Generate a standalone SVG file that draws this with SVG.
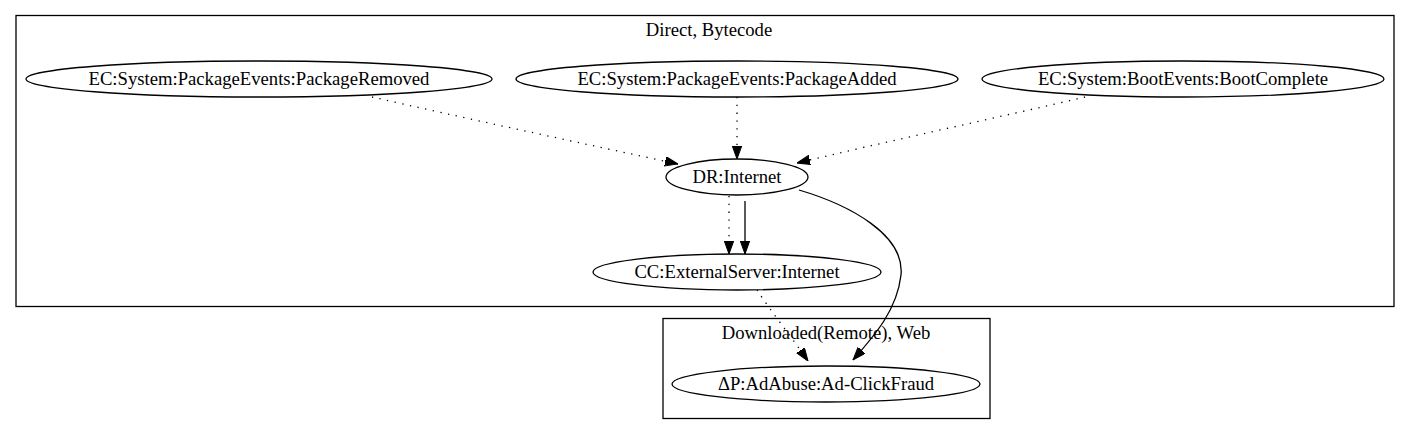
<svg xmlns="http://www.w3.org/2000/svg" width="1411" height="435" viewBox="0 0 1411 435">
<style>
text{font-family:"Liberation Serif","Times New Roman",serif;font-size:18.67px;fill:#000;text-anchor:middle}
.cl{fill:none;stroke:#000;stroke-width:1.3}
.n{fill:none;stroke:#000;stroke-width:1.3}
.e{fill:none;stroke:#000;stroke-width:1.3}
.d{stroke-dasharray:1.3,6.5}
</style>
<defs>
<marker id="ah" markerWidth="13" markerHeight="10" refX="13" refY="4.7" orient="auto" markerUnits="userSpaceOnUse">
<path d="M0,0 L13,4.7 L0,9.4 z" fill="#000" stroke="#000" stroke-width="1"/>
</marker>
</defs>
<rect width="1411" height="435" fill="#fff"/>
<g id="cluster_direct">
<rect class="cl" x="16" y="15.5" width="1378" height="291"/>
<text x="709" y="36">Direct, Bytecode</text>
</g>
<g id="cluster_downloaded">
<rect class="cl" x="663" y="318.5" width="327" height="100"/>
<text x="826" y="339">Downloaded(Remote), Web</text>
</g>
<g id="connectors">
<path class="e d" d="M372,97 C460,117 580,143 678,164" marker-end="url(#ah)"/>
<path class="e d" d="M737,97 L737,159" marker-end="url(#ah)"/>
<path class="e d" d="M1085,97 C1000,117 880,143 797,163" marker-end="url(#ah)"/>
<path class="e d" d="M729,196 L729,254" marker-end="url(#ah)"/>
<path class="e" d="M745,201 L745,254" marker-end="url(#ah)"/>
<path class="e" d="M799,190 C850,205 905,235 901,275 C897,310 875,335 853,360" marker-end="url(#ah)"/>
<path class="e d" d="M757,290 C770,310 790,335 808,361" marker-end="url(#ah)"/>
</g>
<g id="node_removed">
<ellipse class="n" cx="259" cy="79" rx="233" ry="18"/>
<text x="259" y="85">EC:System:PackageEvents:PackageRemoved</text>
</g>
<g id="node_added">
<ellipse class="n" cx="737" cy="79" rx="221" ry="18"/>
<text x="737" y="85">EC:System:PackageEvents:PackageAdded</text>
</g>
<g id="node_boot">
<ellipse class="n" cx="1183" cy="79" rx="201" ry="18"/>
<text x="1183" y="85">EC:System:BootEvents:BootComplete</text>
</g>
<g id="node_dr">
<ellipse class="n" cx="737" cy="177" rx="71" ry="18"/>
<text x="737" y="183">DR:Internet</text>
</g>
<g id="node_cc">
<ellipse class="n" cx="737" cy="272" rx="144" ry="18"/>
<text x="737" y="278">CC:ExternalServer:Internet</text>
</g>
<g id="node_p">
<ellipse class="n" cx="826" cy="384" rx="154" ry="18"/>
<text x="826" y="390">ΔP:AdAbuse:Ad-ClickFraud</text>
</g>
</svg>
